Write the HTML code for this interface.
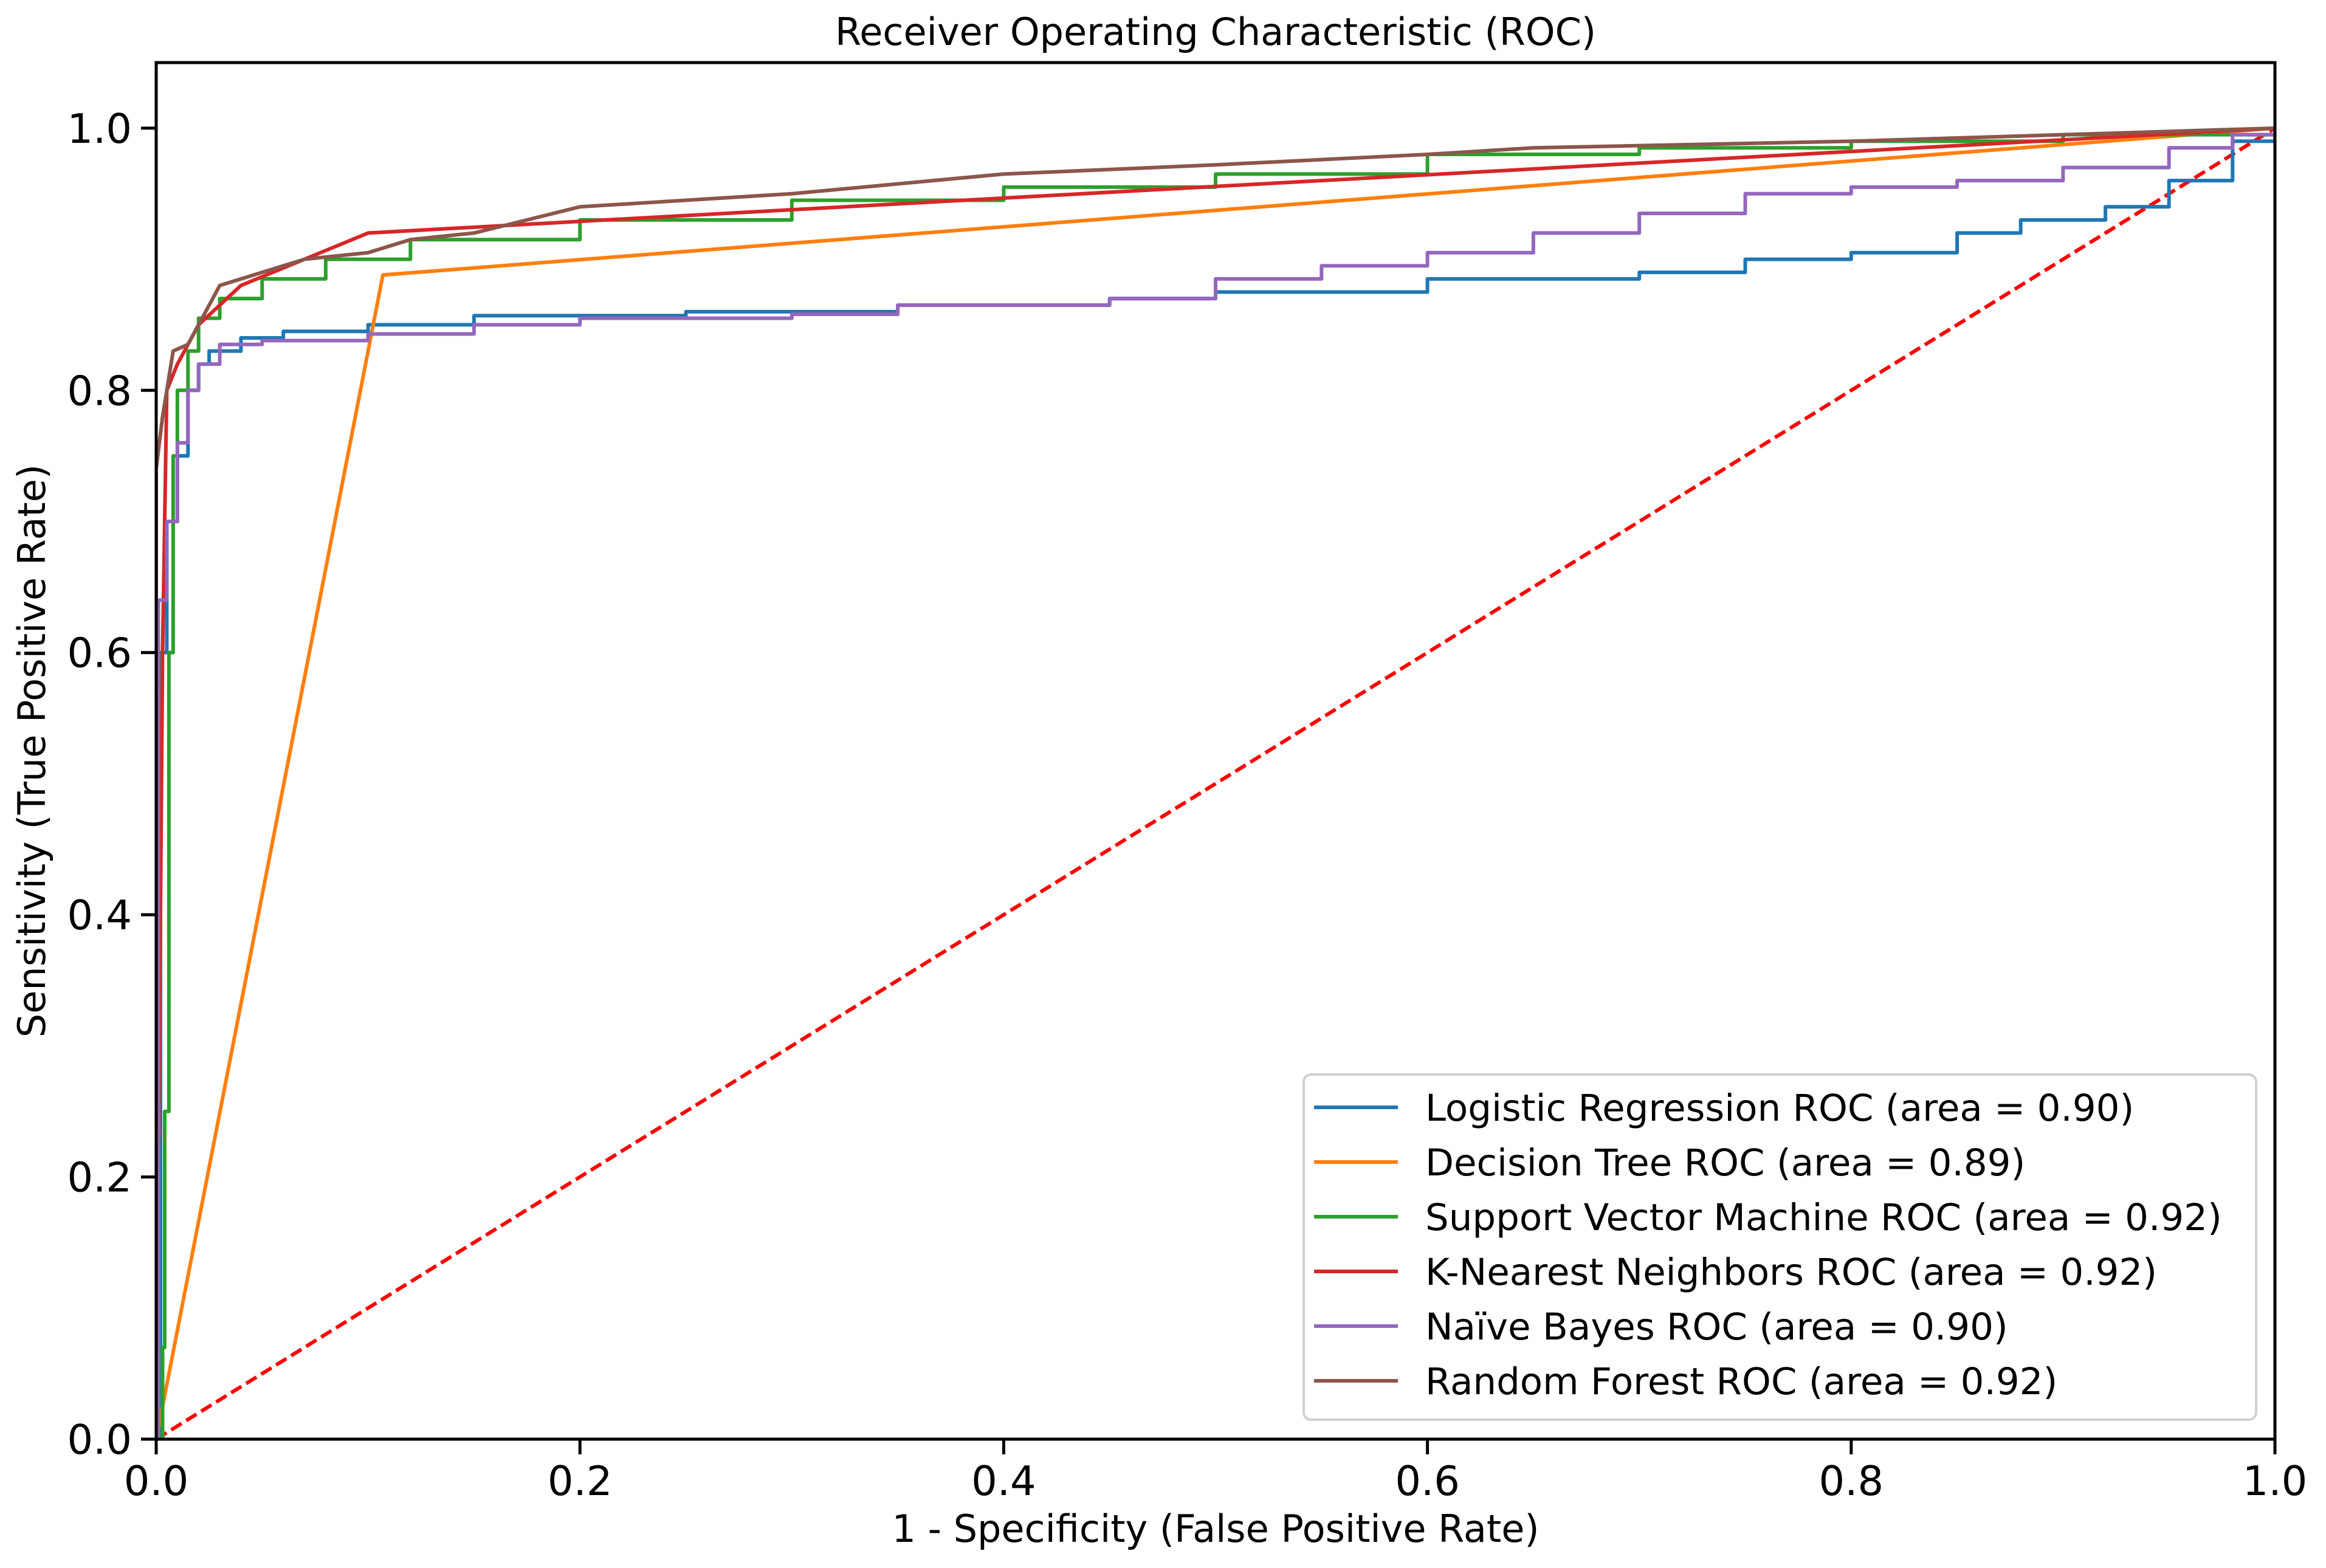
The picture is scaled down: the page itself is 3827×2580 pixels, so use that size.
<!DOCTYPE html>
<html><head><meta charset="utf-8"><style>
html,body{margin:0;padding:0;background:#fff}
svg{display:block;font-family:"DejaVu Sans","Liberation Sans",sans-serif}
</style></head><body>
<svg id="chart" width="3827" height="2580" xmlns="http://www.w3.org/2000/svg">
<rect width="3827" height="2580" fill="#fff"/>
<g id="plot"></g>
</svg>
<script>
const seriesNames=["Logistic Regression ROC (area = 0.90)","Decision Tree ROC (area = 0.89)","Support Vector Machine ROC (area = 0.92)","K-Nearest Neighbors ROC (area = 0.92)","Naïve Bayes ROC (area = 0.90)","Random Forest ROC (area = 0.92)"];
const seriesColors=["#1f77b4","#ff7f0e","#2ca02c","#d62728","#9467bd","#8c564b"];
const seriesStep=[true,false,true,false,true,false];
const lrX=[0,0.002,0.005,0.01,0.015,0.02,0.025,0.04,0.06,0.1,0.15,0.25,0.35,0.45,0.5,0.6,0.7,0.75,0.8,0.85,0.88,0.92,0.95,0.98,1];
const lrY=[0,0.6,0.7,0.75,0.8,0.82,0.83,0.84,0.845,0.85,0.857,0.86,0.865,0.87,0.875,0.885,0.89,0.9,0.905,0.92,0.93,0.94,0.96,0.99,1];
const dtX=[0,0.107,1];
const dtY=[0,0.888,1];
const svmX=[0,0.003,0.004,0.006,0.008,0.01,0.015,0.02,0.03,0.05,0.08,0.12,0.2,0.3,0.4,0.5,0.6,0.7,0.8,0.9,1];
const svmY=[0,0.07,0.25,0.6,0.75,0.8,0.83,0.855,0.87,0.885,0.9,0.915,0.93,0.945,0.955,0.965,0.98,0.985,0.99,0.995,1];
const knnX=[0,0.003,0.005,0.01,0.02,0.04,0.1,1];
const knnY=[0,0.6,0.8,0.82,0.85,0.88,0.92,1];
const nbX=[0,0.001,0.005,0.01,0.015,0.02,0.03,0.05,0.1,0.15,0.2,0.3,0.35,0.45,0.5,0.55,0.6,0.65,0.7,0.75,0.8,0.85,0.9,0.95,0.98,1];
const nbY=[0,0.64,0.7,0.76,0.8,0.82,0.835,0.838,0.843,0.85,0.855,0.858,0.865,0.87,0.885,0.895,0.905,0.92,0.935,0.95,0.955,0.96,0.97,0.985,0.995,1];
const rfX=[0,0,0.003,0.008,0.015,0.02,0.03,0.05,0.07,0.1,0.12,0.15,0.2,0.25,0.3,0.4,0.5,0.6,0.65,0.8,0.9,1];
const rfY=[0,0.74,0.78,0.83,0.835,0.85,0.88,0.89,0.9,0.905,0.915,0.92,0.94,0.945,0.95,0.965,0.972,0.98,0.985,0.99,0.995,1];
const xTicks=[0,0.2,0.4,0.6,0.8,1.0];
const yTicks=[0,0.2,0.4,0.6,0.8,1.0];
const allX=[lrX,dtX,svmX,knnX,nbX,rfX];
const allY=[lrY,dtY,svmY,knnY,nbY,rfY];

const L=257,R=3743,T=103,B=2368,YMAX=1.05;
const sx=v=>L+v*(R-L);
const sy=v=>B-v/YMAX*(B-T);
const NS="http://www.w3.org/2000/svg";
const svg=document.getElementById('chart');
const plot=document.getElementById('plot');
function mk(tag,attrs,parent){const e=document.createElementNS(NS,tag);for(const k in attrs)e.setAttribute(k,attrs[k]);(parent||svg).appendChild(e);return e;}

const defs=mk('defs',{});
const cp=mk('clipPath',{id:'clip'},defs);
mk('rect',{x:L,y:T,width:R-L,height:B-T},cp);
plot.setAttribute('clip-path','url(#clip)');

const diag=mk('line',{x1:sx(0),y1:sy(0),x2:sx(1),y2:sy(1),stroke:'#ff0000','stroke-width':6,'stroke-dasharray':'20,9'},plot);



for(let s=0;s<allX.length;s++){
  const xs=allX[s],ys=allY[s];let pts=[];
  for(let i=0;i<xs.length;i++){
    if(seriesStep[s]&&i>0) pts.push(sx(xs[i])+','+sy(ys[i-1]));
    pts.push(sx(xs[i])+','+sy(ys[i]));
  }
  const pl=mk('polyline',{points:pts.join(' '),fill:'none',stroke:seriesColors[s],'stroke-width':6,'stroke-linejoin':'round'},plot);
  
  
}

const fr=mk('rect',{x:L,y:T,width:R-L,height:B-T,fill:'none',stroke:'#000','stroke-width':5});



xTicks.forEach(v=>{
  mk('line',{x1:sx(v),y1:B,x2:sx(v),y2:B+25,stroke:'#000','stroke-width':5});
  const t=mk('text',{x:sx(v),y:B+92,'text-anchor':'middle','font-size':67,fill:'#000'});
  t.textContent=v.toFixed(1);
  
  
});
yTicks.forEach(v=>{
  mk('line',{x1:L-25,y1:sy(v),x2:L,y2:sy(v),stroke:'#000','stroke-width':5});
  const t=mk('text',{x:L-40,y:sy(v)+24,'text-anchor':'end','font-size':67,fill:'#000'});
  t.textContent=v.toFixed(1);
  
  
});

const title=mk('text',{x:(L+R)/2,y:74,'text-anchor':'middle','font-size':62,fill:'#000'});
title.textContent='Receiver Operating Characteristic (ROC)';


const xl=mk('text',{x:(L+R)/2,y:2537,'text-anchor':'middle','font-size':62,fill:'#000'});
xl.textContent='1 - Specificity (False Positive Rate)';


const yl=mk('text',{x:0,y:0,'text-anchor':'middle','font-size':62,fill:'#000',transform:'translate(74,'+((T+B)/2)+') rotate(-90)'});
yl.textContent='Sensitivity (True Positive Rate)';



const lg=mk('g',{});


mk('rect',{x:2145,y:1768,width:1567,height:568,rx:12,fill:'#fff','fill-opacity':0.8,stroke:'#d0d0d0','stroke-width':4},lg);
const ly=[1822,1912,2002,2092,2182,2272];
for(let s=0;s<seriesNames.length;s++){
  const g=mk('g',{},lg);
  
  
  mk('line',{x1:2162,y1:ly[s],x2:2300,y2:ly[s],stroke:seriesColors[s],'stroke-width':6},g);
  const t=mk('text',{x:2345,y:ly[s]+22,'font-size':61,fill:'#000'},g);
  t.textContent=seriesNames[s];
}
</script>
</body></html>
